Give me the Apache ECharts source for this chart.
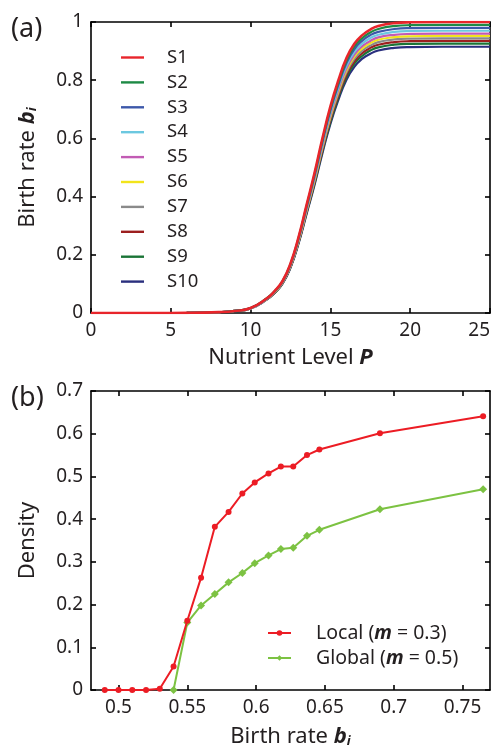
<!DOCTYPE html>
<html><head><meta charset="utf-8">
<script src="https://cdn.jsdelivr.net/npm/echarts@6/dist/echarts.min.js"></script>
<style>html,body{margin:0;padding:0;background:#fff}#c{width:495px;height:750px}</style>
</head><body><div id="c"></div>
<script>
// ---------- Panel (a) data ----------
const nutrientP = [0, 4, 6, 8, 9, 10, 11, 11.5, 12, 12.5, 13, 13.5, 14, 14.5, 15, 15.5, 16, 16.5, 17, 17.5, 18, 19, 20, 22, 25];
const s1  = [0, 0, 0.0005, 0.003, 0.007, 0.017, 0.050, 0.075, 0.110, 0.170, 0.260, 0.370, 0.480, 0.600, 0.710, 0.800, 0.875, 0.925, 0.955, 0.974, 0.986, 0.996, 0.999, 1.000, 1.000];
const s2  = [0, 0, 0.0005, 0.003, 0.007, 0.017, 0.050, 0.074, 0.109, 0.168, 0.257, 0.366, 0.475, 0.594, 0.703, 0.792, 0.866, 0.916, 0.945, 0.964, 0.976, 0.986, 0.989, 0.990, 0.990];
const s3  = [0, 0, 0.0005, 0.003, 0.007, 0.017, 0.049, 0.074, 0.108, 0.167, 0.255, 0.363, 0.470, 0.588, 0.696, 0.784, 0.858, 0.907, 0.936, 0.955, 0.966, 0.976, 0.979, 0.980, 0.980];
const s4  = [0, 0, 0.0005, 0.003, 0.007, 0.016, 0.049, 0.073, 0.107, 0.165, 0.252, 0.359, 0.466, 0.582, 0.689, 0.776, 0.849, 0.897, 0.926, 0.945, 0.956, 0.966, 0.969, 0.970, 0.970];
const s5  = [0, 0, 0.0005, 0.003, 0.007, 0.016, 0.048, 0.072, 0.106, 0.163, 0.250, 0.355, 0.461, 0.576, 0.682, 0.768, 0.840, 0.888, 0.917, 0.935, 0.947, 0.956, 0.959, 0.960, 0.960];
const s6  = [0, 0, 0.0005, 0.003, 0.007, 0.016, 0.048, 0.071, 0.105, 0.162, 0.248, 0.352, 0.457, 0.571, 0.676, 0.762, 0.833, 0.881, 0.909, 0.927, 0.939, 0.948, 0.951, 0.952, 0.952];
const s7  = [0, 0, 0.0005, 0.003, 0.007, 0.016, 0.047, 0.071, 0.104, 0.160, 0.245, 0.349, 0.453, 0.566, 0.670, 0.755, 0.826, 0.873, 0.902, 0.919, 0.931, 0.940, 0.943, 0.944, 0.944];
const s8  = [0, 0, 0.0005, 0.003, 0.007, 0.016, 0.047, 0.070, 0.103, 0.159, 0.243, 0.346, 0.449, 0.561, 0.664, 0.748, 0.818, 0.865, 0.893, 0.911, 0.922, 0.931, 0.934, 0.935, 0.935];
const s9  = [0, 0, 0.0005, 0.003, 0.006, 0.016, 0.046, 0.069, 0.102, 0.157, 0.241, 0.343, 0.444, 0.556, 0.657, 0.741, 0.810, 0.857, 0.884, 0.902, 0.913, 0.922, 0.925, 0.926, 0.926];
const s10 = [0, 0, 0.0005, 0.003, 0.006, 0.016, 0.046, 0.069, 0.101, 0.156, 0.238, 0.339, 0.439, 0.549, 0.650, 0.732, 0.801, 0.846, 0.874, 0.891, 0.902, 0.911, 0.914, 0.915, 0.915];
const speciesNames = ['S1','S2','S3','S4','S5','S6','S7','S8','S9','S10'];
const speciesValues = [s1, s2, s3, s4, s5, s6, s7, s8, s9, s10];
const topXTicks = [0, 5, 10, 15, 20, 25];
const topYTicks = [0, 0.2, 0.4, 0.6, 0.8, 1];

// ---------- Panel (b) data ----------
const birthLocal   = [0.49, 0.50, 0.51, 0.52, 0.53, 0.54, 0.55, 0.56, 0.57, 0.58, 0.59, 0.599, 0.609, 0.618, 0.627, 0.637, 0.646, 0.690, 0.765];
const densityLocal = [0, 0, 0, 0, 0.003, 0.055, 0.162, 0.263, 0.382, 0.417, 0.460, 0.486, 0.507, 0.523, 0.523, 0.550, 0.563, 0.601, 0.641];
const birthGlobal   = [0.54, 0.55, 0.56, 0.57, 0.58, 0.59, 0.599, 0.609, 0.618, 0.627, 0.637, 0.646, 0.690, 0.765];
const densityGlobal = [0, 0.158, 0.198, 0.225, 0.252, 0.274, 0.297, 0.315, 0.330, 0.333, 0.361, 0.375, 0.423, 0.470];
const bottomXTicks = [0.5, 0.55, 0.6, 0.65, 0.7, 0.75];
const bottomYTicks = [0, 0.1, 0.2, 0.3, 0.4, 0.5, 0.6, 0.7];

// ---------- styling ----------
const FONT = 'Noto Sans';
const TXT = '#231f20';
const colors = ['#e8252b','#1d8a45','#3d58aa','#6cc8e0','#c25bb4','#f2e41b','#8a8a8a','#9c1f1f','#1a7436','#2a2f7e'];

function axisBase(pos, ticks, min, max, showLabel, gridIndex) {
  return {
    type: 'value', gridIndex, position: pos, min, max,
    axisLine: { show: true, onZero: false, lineStyle: { color: '#000', width: 1.6 } },
    axisTick: { show: true, inside: true, length: 5, customValues: ticks, lineStyle: { color: '#000', width: 1.6 } },
    axisLabel: { show: showLabel, customValues: ticks, margin: 8, fontSize: 19, color: TXT, fontFamily: FONT },
    splitLine: { show: false }
  };
}

const chart = echarts.init(document.getElementById('c'), null, { renderer: 'canvas' });

const xTop0 = axisBase('bottom', topXTicks, 0, 25, true, 0);
xTop0.axisLabel.alignMaxLabel = 'right';
xTop0.name = 'Nutrient Level {p|P}';
xTop0.nameLocation = 'middle';
xTop0.nameGap = 34;
xTop0.nameTextStyle = { fontSize: 22, color: TXT, fontFamily: FONT,
  rich: { p: { fontSize: 22, fontWeight: 'bold', fontStyle: 'italic', color: TXT, fontFamily: FONT } } };
const xTop1 = axisBase('top', topXTicks, 0, 25, false, 0);

const yTop0 = axisBase('left', topYTicks, 0, 1, true, 0);
yTop0.name = 'Birth rate {b|b}{s|i}';
yTop0.nameLocation = 'middle';
yTop0.nameGap = 52;
yTop0.nameTextStyle = { fontSize: 22, color: TXT, fontFamily: FONT,
  rich: { b: { fontSize: 22, fontWeight: 'bold', fontStyle: 'italic', color: TXT, fontFamily: FONT },
          s: { fontSize: 13, fontWeight: 'bold', fontStyle: 'italic', color: TXT, fontFamily: FONT, verticalAlign: 'bottom', lineHeight: 13, padding: [12, 0, 0, 0] } } };
const yTop1 = axisBase('right', topYTicks, 0, 1, false, 0);

const xBot0 = axisBase('bottom', bottomXTicks, 0.48, 0.77, true, 1);
xBot0.name = 'Birth rate {b|b}{s|i}';
xBot0.nameLocation = 'middle';
xBot0.nameGap = 36;
xBot0.nameTextStyle = yTop0.nameTextStyle;
const xBot1 = axisBase('top', bottomXTicks, 0.48, 0.77, false, 1);

const yBot0 = axisBase('left', bottomYTicks, 0, 0.7, true, 1);
yBot0.name = 'Density';
yBot0.nameLocation = 'middle';
yBot0.nameGap = 52;
yBot0.nameTextStyle = { fontSize: 22, color: TXT, fontFamily: FONT };
const yBot1 = axisBase('right', bottomYTicks, 0, 0.7, false, 1);

const series = speciesNames.map((name, i) => ({
  name, type: 'line', xAxisIndex: 0, yAxisIndex: 0,
  data: nutrientP.map((p, k) => [p, speciesValues[i][k]]),
  smooth: 0.5, symbol: 'none', showSymbol: false,
  lineStyle: { color: colors[i], width: i === 0 ? 2.6 : 2.2 },
  itemStyle: { color: colors[i] },
  z: 20 - i
}));

series.push({
  name: 'Local', type: 'line', xAxisIndex: 2, yAxisIndex: 2,
  data: birthLocal.map((b, k) => [b, densityLocal[k]]),
  symbol: 'circle', symbolSize: 6,
  lineStyle: { color: '#ec1c24', width: 2 }, itemStyle: { color: '#ec1c24' }, z: 5
});
series.push({
  name: 'Global', type: 'line', xAxisIndex: 2, yAxisIndex: 2,
  data: birthGlobal.map((b, k) => [b, densityGlobal[k]]),
  symbol: 'diamond', symbolSize: 8,
  lineStyle: { color: '#7cc242', width: 2 }, itemStyle: { color: '#7cc242' }, z: 4
});

chart.setOption({
  backgroundColor: '#fff',
  animation: false,
  grid: [
    { left: 91, top: 22, width: 399, height: 291, outerBoundsMode: 'none', containLabel: false },
    { left: 91, top: 391, width: 399, height: 299, outerBoundsMode: 'none', containLabel: false }
  ],
  xAxis: [xTop0, xTop1, xBot0, xBot1],
  yAxis: [yTop0, yTop1, yBot0, yBot1],
  legend: [
    { data: speciesNames, orient: 'vertical', left: 116, top: 43, itemWidth: 23, itemHeight: 17, itemGap: 5.9,
      icon: 'path://M0,0 L23,0 L23,2.4 L0,2.4 Z',
      textStyle: { fontSize: 18.5, color: TXT, fontFamily: FONT, padding: [0, 0, 0, 18], lineHeight: 17 } },
    { data: ['Local', 'Global'], orient: 'vertical', left: 262, top: 617, itemWidth: 23, itemHeight: 7, itemGap: 3,
      formatter: n => n === 'Local' ? 'Local ({m|m} = 0.3)' : 'Global ({m|m} = 0.5)',
      textStyle: { fontSize: 19.5, color: TXT, fontFamily: FONT, padding: [0, 0, 0, 20], lineHeight: 22,
        rich: { m: { fontSize: 19.5, fontWeight: 'bold', fontStyle: 'italic', color: TXT, fontFamily: FONT, lineHeight: 22 } } } }
  ],
  graphic: [
    { type: 'text', left: 11, top: 16, style: { text: '(a)', fontSize: 27, fill: TXT, fontFamily: FONT } },
    { type: 'text', left: 11, top: 385, style: { text: '(b)', fontSize: 27, fill: TXT, fontFamily: FONT } }
  ],
  series
});
</script>
</body></html>
